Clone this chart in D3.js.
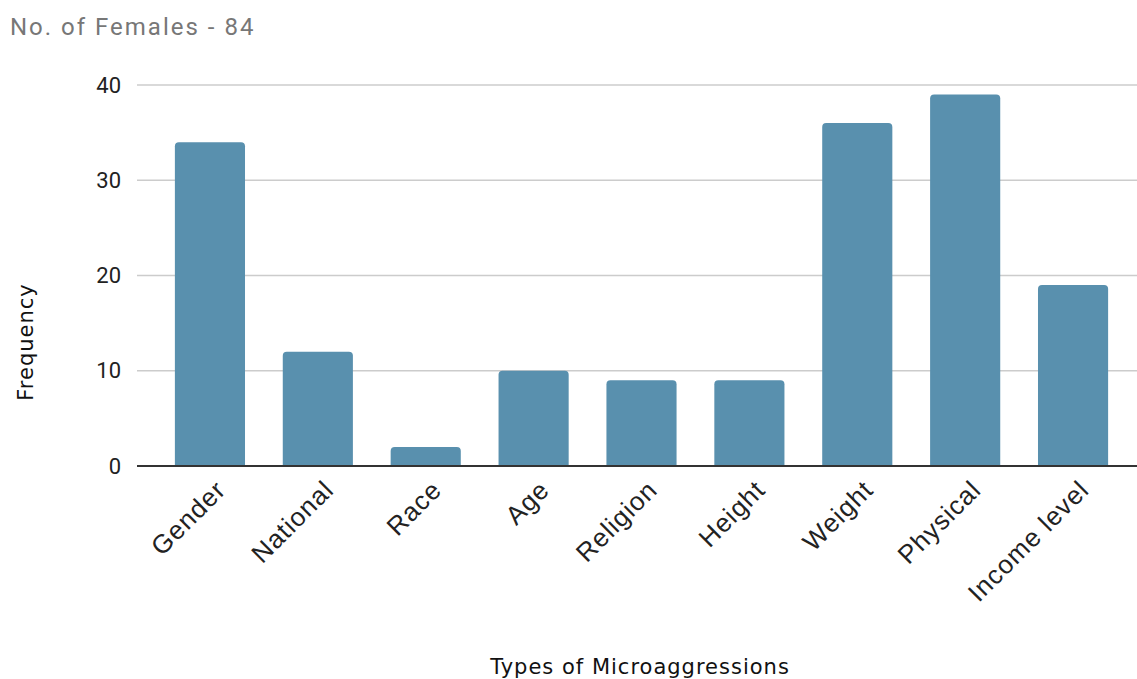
<!DOCTYPE html>
<html>
<head>
<meta charset="utf-8">
<script src="https://cdn.jsdelivr.net/npm/d3@7"></script>
<style>
  body { margin: 0; background: #fff; }
</style>
</head>
<body>
<div id="chart"></div>
<script>
// Data
const categories = ["Gender", "National", "Race", "Age", "Religion", "Height", "Weight", "Physical", "Income level"];
const frequency = [34, 12, 2, 10, 9, 9, 36, 39, 19];
const yTicks = [0, 10, 20, 30, 40];

const width = 1137, height = 679;
const margin = {top: 85, right: 0, bottom: 213, left: 137};

const svg = d3.select("#chart")
    .append("svg")
    .attr("width", width)
    .attr("height", height);

// Scales
const xScale = d3.scaleBand()
    .domain(categories)
    .range([156, 1127])
    .paddingInner(0.35)
    .paddingOuter(0.175);
const yScale = d3.scaleLinear().domain([0, 40]).range([height - margin.bottom, margin.top]);

// Title
svg.append("text")
    .attr("x", 10).attr("y", 35)
    .style("font-family", "Roboto, sans-serif")
    .style("font-size", "24px")
    .style("letter-spacing", "2px")
    .style("fill", "#777")
    .text("No. of Females - 84");

// Gridlines
svg.append("g")
    .selectAll("line")
    .data(yTicks.filter(d => d > 0))
    .enter().append("line")
    .attr("x1", margin.left).attr("x2", width)
    .attr("y1", d => yScale(d)).attr("y2", d => yScale(d))
    .style("stroke", "#cccccc")
    .style("stroke-width", 1.5);

// Y axis labels
const yAxis = svg.append("g")
    .attr("transform", `translate(${margin.left},0)`)
    .call(d3.axisLeft(yScale).tickValues(yTicks).tickSize(0).tickPadding(16));
yAxis.select(".domain").remove();
yAxis.selectAll("text")
    .style("font-family", "Roboto, sans-serif")
    .style("font-size", "22px")
    .style("fill", "#222");

// Bars with rounded top corners
const r = 4;
svg.append("g")
    .selectAll("path")
    .data(categories.map((c, i) => ({name: c, value: frequency[i]})))
    .enter().append("path")
    .attr("d", d => {
        const x0 = xScale(d.name), w = xScale.bandwidth();
        const y0 = yScale(d.value), yb = yScale(0);
        return `M${x0},${yb} V${y0 + r} Q${x0},${y0} ${x0 + r},${y0} H${x0 + w - r} Q${x0 + w},${y0} ${x0 + w},${y0 + r} V${yb} Z`;
    })
    .style("fill", "#5990ae");

// Baseline
svg.append("line")
    .attr("x1", margin.left).attr("x2", width)
    .attr("y1", yScale(0)).attr("y2", yScale(0))
    .style("stroke", "#333")
    .style("stroke-width", 2);

// X axis labels
const xAxis = svg.append("g")
    .attr("transform", `translate(0,${yScale(0)})`)
    .call(d3.axisBottom(xScale).tickSize(0).tickPadding(0));
xAxis.select(".domain").remove();
xAxis.selectAll("text")
    .attr("transform", "translate(11,19) rotate(-45)")
    .attr("dy", "0.35em")
    .style("text-anchor", "end")
    .style("font-family", "'Liberation Sans', Arial, sans-serif")
    .style("font-size", "26px")
    .style("letter-spacing", "1px")
    .style("fill", "#222");

// Axis titles
svg.append("text")
    .attr("x", 640).attr("y", 674)
    .style("text-anchor", "middle")
    .style("font-family", "'DejaVu Sans', sans-serif")
    .style("font-size", "21px")
    .style("letter-spacing", "1px")
    .style("fill", "#111")
    .text("Types of Microaggressions");
svg.append("text")
    .attr("transform", "rotate(-90)")
    .attr("x", -342).attr("y", 33)
    .style("text-anchor", "middle")
    .style("font-family", "'DejaVu Sans', sans-serif")
    .style("font-size", "21px")
    .style("letter-spacing", "1px")
    .style("fill", "#111")
    .text("Frequency");
</script>
</body>
</html>
